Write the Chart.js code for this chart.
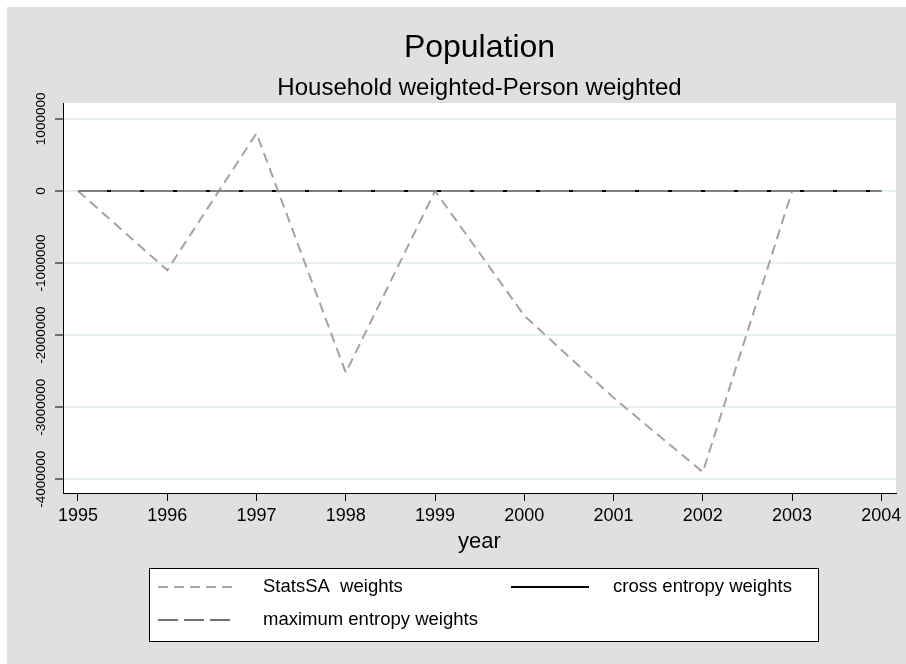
<!DOCTYPE html>
<html lang="en">
<head>
  <meta charset="UTF-8" />
  <title>Population</title>
  <script src="https://cdn.jsdelivr.net/npm/chart.js"></script>
  <style>
    body { margin: 0; background: #fff; }
    canvas { display: block; }
  </style>
</head>
<body>
  <canvas id="lineChart" width="906" height="664"></canvas>

  <script>
    const years = [1995, 1996, 1997, 1998, 1999, 2000, 2001, 2002, 2003, 2004];
    const statsSA = [0, -1100000, 800000, -2520000, 0, -1730000, -2870000, -3900000, 0, 0];
    const crossEntropy = [0, 0, 0, 0, 0, 0, 0, 0, 0, 0];
    const maxEntropy = [0, 0, 0, 0, 0, 0, 0, 0, 0, 0];
    const yTicks = [-4000000, -3000000, -2000000, -1000000, 0, 1000000];

    const FONT = '"Liberation Sans", Arial, sans-serif';

    const toPoints = arr => arr.map((v, i) => ({ x: years[i], y: v }));

    // background, titles, rotated y labels, x labels, legend
    const stataLook = {
      id: 'stataLook',
      beforeDraw(chart) {
        const c = chart.ctx;
        const a = chart.chartArea;
        c.save();
        c.fillStyle = '#ffffff';
        c.fillRect(0, 0, chart.width, chart.height);
        c.fillStyle = '#e0e0e0';
        c.fillRect(7, 7, chart.width - 7, chart.height - 7);
        c.fillStyle = '#ffffff';
        c.fillRect(a.left, a.top, a.right - a.left, a.bottom - a.top);
        c.restore();
      },
      afterDraw(chart) {
        const c = chart.ctx;
        const a = chart.chartArea;
        const xs = chart.scales.x, ys = chart.scales.y;
        const mid = (a.left + a.right) / 2;
        c.save();
        c.fillStyle = '#000';
        c.textAlign = 'center';
        c.textBaseline = 'middle';

        c.font = '32px ' + FONT;
        c.fillText('Population', mid, 48);
        c.font = '24px ' + FONT;
        c.fillText('Household weighted-Person weighted', mid, 88);

        // x labels
        c.font = '18px ' + FONT;
        years.forEach(y => c.fillText(String(y), xs.getPixelForValue(y), 516));
        c.font = '22px ' + FONT;
        c.fillText('year', mid, 542);

        // y labels rotated
        c.font = '13.5px ' + FONT;
        yTicks.forEach(v => {
          c.save();
          c.translate(41, ys.getPixelForValue(v));
          c.rotate(-Math.PI / 2);
          c.fillText(String(v), 0, 0);
          c.restore();
        });

        // legend
        const bx = 149, by = 568, bw = 669, bh = 73;
        c.fillStyle = '#ffffff';
        c.fillRect(bx, by, bw, bh);
        c.strokeStyle = '#000';
        c.lineWidth = 1;
        c.strokeRect(bx + 0.5, by + 0.5, bw, bh);

        const items = [
          { x: 158, tx: 263, y: 587, text: 'StatsSA  weights', color: '#a8a8a8', dash: [10, 6] },
          { x: 511, tx: 613, y: 587, text: 'cross entropy weights', color: '#000000', dash: [] },
          { x: 158, tx: 263, y: 620, text: 'maximum entropy weights', color: '#707070', dash: [20, 6] }
        ];
        c.font = '18.5px ' + FONT;
        c.textAlign = 'left';
        items.forEach(it => {
          c.beginPath();
          c.setLineDash(it.dash);
          c.strokeStyle = it.color;
          c.lineWidth = 2;
          c.moveTo(it.x, it.y);
          c.lineTo(it.x + 78, it.y);
          c.stroke();
          c.setLineDash([]);
          c.fillStyle = '#000';
          c.fillText(it.text, it.tx, it.y);
        });
        c.restore();
      }
    };

    new Chart(document.getElementById('lineChart'), {
      type: 'line',
      data: {
        datasets: [
          {
            label: 'maximum entropy weights',
            data: toPoints(maxEntropy),
            borderColor: '#808080',
            borderWidth: 2,
            borderDash: [29, 4],
            pointRadius: 0,
            tension: 0
          },
          {
            label: 'cross entropy weights',
            data: toPoints(crossEntropy),
            borderColor: '#000000',
            borderWidth: 2,
            pointRadius: 0,
            tension: 0
          },
          {
            label: 'StatsSA  weights',
            data: toPoints(statsSA),
            borderColor: '#a3a3a3',
            borderWidth: 2,
            borderDash: [10, 6],
            pointRadius: 0,
            tension: 0
          }
        ]
      },
      options: {
        responsive: false,
        animation: false,
        layout: { padding: { left: 0, top: 103, right: 10, bottom: 0 } },
        plugins: {
          legend: { display: false },
          tooltip: { enabled: false }
        },
        scales: {
          x: {
            type: 'linear',
            min: 1994.832,
            max: 2004.164,
            afterBuildTicks: s => { s.ticks = years.map(v => ({ value: v })); },
            afterFit: s => { s.height = 171; },
            ticks: { display: false },
            grid: { drawOnChartArea: false, tickLength: 8, tickColor: '#000', tickWidth: 1 },
            border: { color: '#000', width: 1 }
          },
          y: {
            min: -4190000,
            max: 1220000,
            afterBuildTicks: s => { s.ticks = yTicks.map(v => ({ value: v })); },
            afterFit: s => { s.width = 63; },
            ticks: { display: false },
            grid: { color: '#e6eff1', lineWidth: 2, tickLength: 8, tickColor: '#000', tickWidth: 1 },
            border: { color: '#000', width: 1 }
          }
        }
      },
      plugins: [stataLook]
    });
  </script>
</body>
</html>
